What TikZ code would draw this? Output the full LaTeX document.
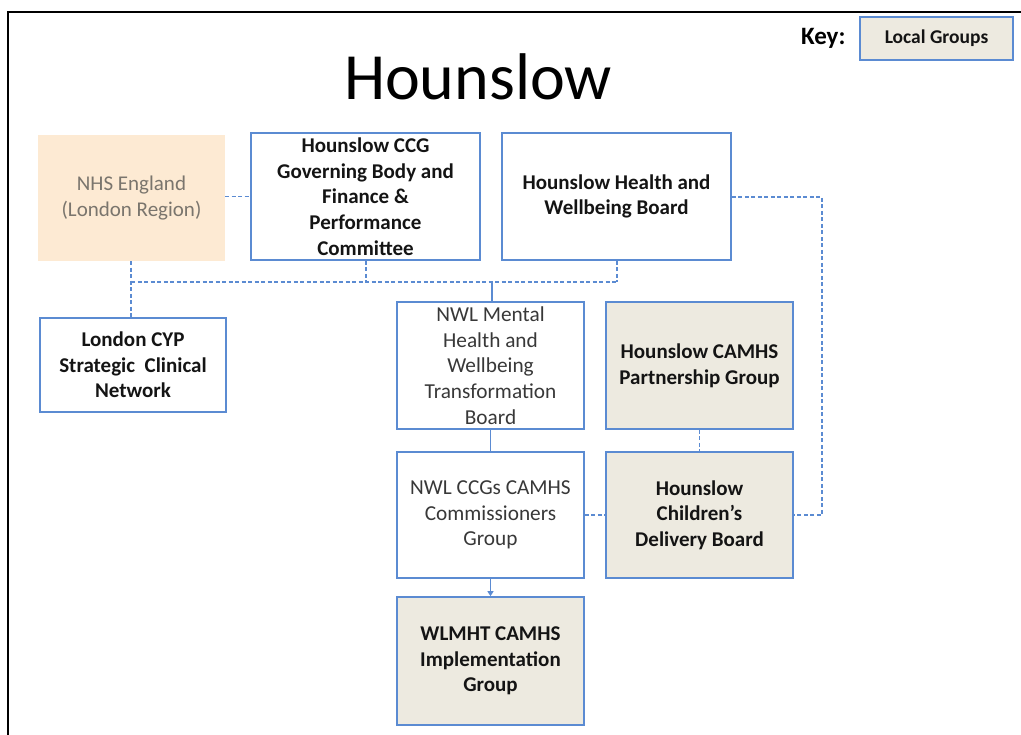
\documentclass[tikz,border=0pt]{standalone}
\usepackage{fontspec}
\setmainfont{Carlito}
\usetikzlibrary{arrows.meta}
\definecolor{boxblue}{HTML}{5B8BD2}
\definecolor{localfill}{HTML}{EDEAE0}
\definecolor{nhsfill}{HTML}{FDEAD3}
\definecolor{nhstext}{HTML}{7A756D}
\definecolor{nwltext}{HTML}{383838}
\begin{document}
\begin{tikzpicture}[x=1pt,y=-1pt,
  orgbox/.style={draw=boxblue, line width=1.6pt, inner sep=0pt, align=center,
    font=\fontsize{21}{25.7}\selectfont\bfseries, text=black!92},
  localbox/.style={orgbox, fill=localfill},
  plainbox/.style={orgbox, font=\fontsize{21.3}{25.7}\selectfont, text=nwltext},
  link/.style={draw=boxblue, line width=1.4pt},
  dlink/.style={link, dash pattern=on 4pt off 2.5pt},
  sized/.style 2 args={minimum width=#1pt, minimum height=#2pt}]
\useasboundingbox (0,0) rectangle (1021,735);
\clip (0,0) rectangle (1021,735);

% outer frame
\draw[line width=2pt] (8,1000) -- (8,12) -- (1100,12);

% heading and key
\node[font=\fontsize{66}{70}\selectfont] (title) at (478,77) {Hounslow};
\node[font=\fontsize{25}{28}\selectfont\bfseries, anchor=east] (keylabel) at (849,38) {Key:};
\node[localbox, sized={153}{43}, font=\fontsize{19.5}{22}\selectfont\bfseries] (key) at (936.5,38.5) {Local Groups};

% boxes
\node[fill=nhsfill, sized={187}{126}, inner sep=0pt, align=center,
  font=\fontsize{21}{25.7}\selectfont, text=nhstext] (nhs) at (131.5,198) {NHS England\\(London Region)};
\node[orgbox, sized={229}{127}] (ccg) at (365.5,196.5)
  {Hounslow CCG\\Governing Body and\\Finance \&\\Performance\\Committee};
\node[orgbox, sized={229}{127}] (hwb) at (616.5,196.5) {Hounslow Health and\\Wellbeing Board};
\node[orgbox, sized={186}{94}] (cyp) at (133,365) {London CYP\\Strategic~ Clinical\\Network};
\node[plainbox, sized={187}{127}] (nwlmh) at (490.5,365.5)
  {NWL Mental\\Health and\\Wellbeing\\Transformation\\Board};
\node[localbox, sized={187}{127}] (camhsp) at (699.5,365.5) {Hounslow CAMHS\\Partnership Group};
\node[plainbox, sized={187}{126}] (nwlccg) at (490.5,515) {NWL CCGs CAMHS\\Commissioners\\Group};
\node[localbox, sized={187}{126}] (cdb) at (699.5,515) {Hounslow\\Children's\\Delivery Board};
\node[localbox, sized={187}{128}] (wlmht) at (490.5,661) {WLMHT CAMHS\\Implementation\\Group};

% junction points of the dashed bus
\coordinate (busl) at (131,282);
\coordinate (busc) at (366,282);
\coordinate (busm) at (492,282);
\coordinate (busr) at (617,282);
\coordinate (hwbturn) at (822,197);

% connectors
\draw[dlink] (nhs.east |- ccg.west) -- (ccg.west);
\draw[dlink] (nhs.south -| busl) -- (cyp.north -| busl);
\draw[dlink] (busl) -- (busr);
\draw[dlink] (ccg.south -| busc) -- (busc);
\draw[dlink] (hwb.south -| busr) -- (busr);
\draw[link] (busm) -- (nwlmh.north -| busm);
\draw[dlink] (hwb.east |- hwbturn) -- (hwbturn) |- (cdb.east);
\draw[dlink] (camhsp.south) -- (cdb.north);
\draw[link] (nwlmh.south) -- (nwlccg.north);
\draw[dlink] (nwlccg.east) -- (cdb.west);
\draw[link, -{Triangle[length=5pt, width=6pt]}] (nwlccg.south) -- (wlmht.north);
\end{tikzpicture}
\end{document}
